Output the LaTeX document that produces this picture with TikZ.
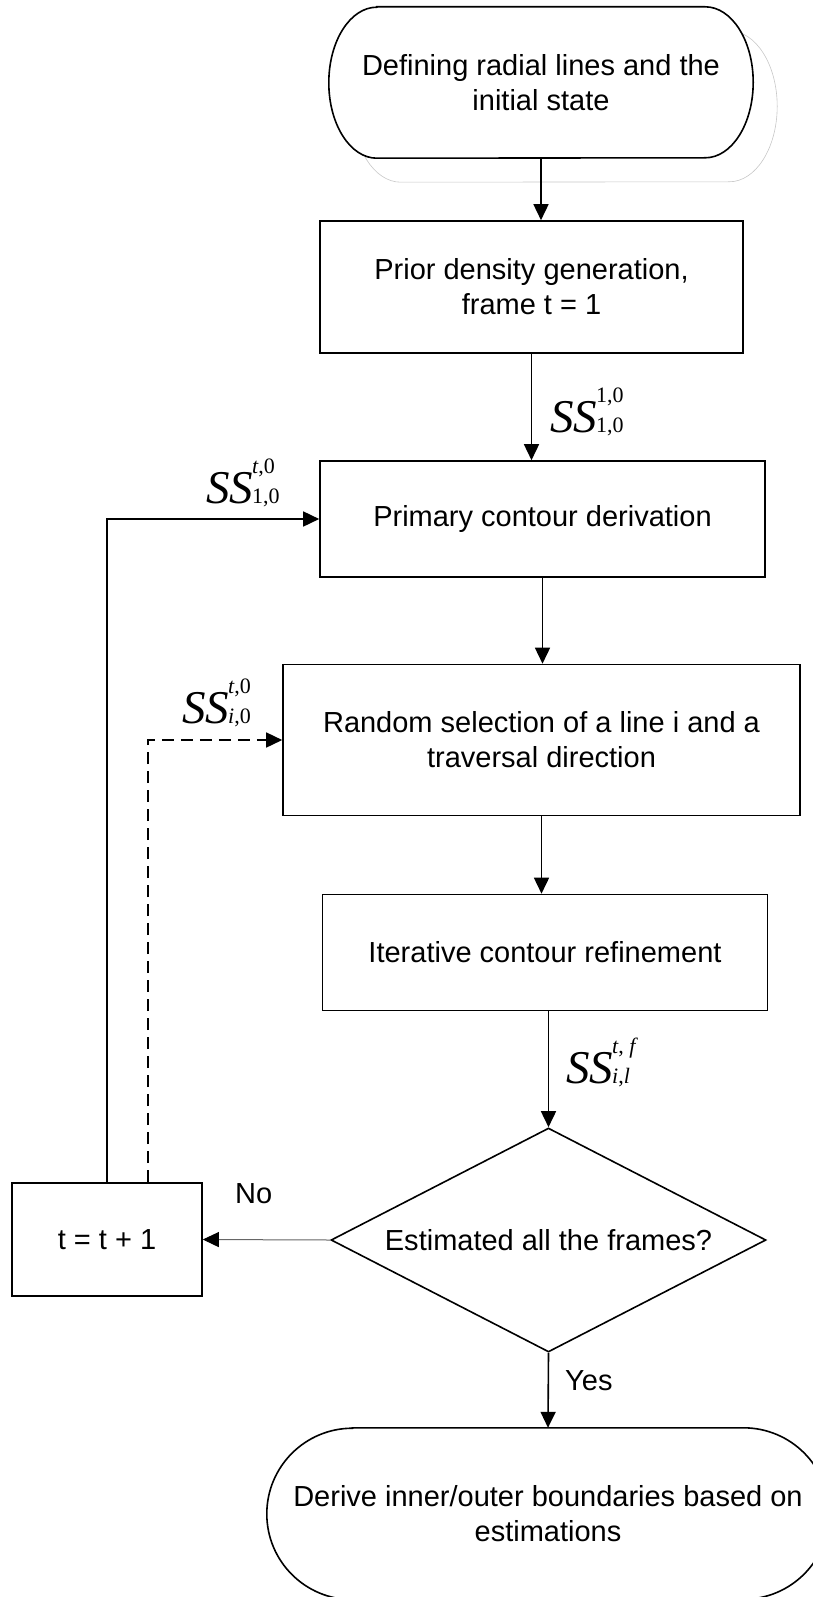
\documentclass[tikz,border=0pt]{standalone}
\usepackage{fontspec}
\setmainfont{Liberation Sans}
\newfontfamily\tnr{Liberation Serif}
\usetikzlibrary{arrows.meta,shapes.geometric,backgrounds}
\newcommand{\sslab}[2]{{\tnr\fontsize{47}{47}\selectfont\itshape SS}\kern-1pt{\tnr\fontsize{22}{22}\selectfont\begin{tabular}[b]{@{}l@{}}#1\\[8pt]#2\end{tabular}}}
\newcommand{\stadium}[3]{([xshift=#2]#1.north west) -- ([xshift=-#2]#1.north east)
  arc[start angle=90,end angle=-90,x radius=#2,y radius=#3] -- ([xshift=#2]#1.south west)
  arc[start angle=270,end angle=90,x radius=#2,y radius=#3] -- cycle}

\begin{document}
\begin{tikzpicture}[x=1pt,y=-1pt,
  every node/.style={font=\fontsize{29}{35}\selectfont,align=center},
  procbox/.style 2 args={draw,line width=1.6pt,minimum width=#1,minimum height=#2,inner sep=0pt},
  terminal/.style 2 args={minimum width=#1,minimum height=#2,inner sep=0pt},
  outline/.style={line width=1.6pt,fill=white},
  decision/.style={draw,diamond,line width=1.6pt,minimum width=435pt,minimum height=224pt,inner sep=0pt,aspect=1.94},
  lab/.style={anchor=base west,inner sep=0pt},
  flow/.style={line width=1.6pt,-{Triangle[length=16pt,width=15pt,color=black]}}]
  \useasboundingbox (0,0) rectangle (813,1597);
  \node[terminal={424pt}{151pt}] (start) at (541,82.5) {Defining radial lines and the\\initial state};
  \node[procbox={423pt}{132pt}] (prior) at (531.5,287) {Prior density generation,\\frame t = 1};
  \node[procbox={445pt}{116pt}] (primary) at (542.5,519) {Primary contour derivation};
  \node[procbox={517pt}{151pt}] (select) at (541.5,740) {Random selection of a line i and a\\traversal direction};
  \node[procbox={445pt}{116pt}] (refine) at (545,952.5) {Iterative contour refinement};
  \node[decision] (check) at (548.5,1240) {Estimated all the frames?};
  \node[procbox={190pt}{113pt}] (incr) at (107,1239.5) {t = t + 1};
  \node[terminal={562pt}{171.4pt}] (finish) at (548,1513.7) {Derive inner/outer boundaries based on\\estimations};

  \begin{scope}[on background layer]
    \draw[black!22,line width=0.6pt,transform canvas={xshift=24pt,yshift=-24pt}] \stadium{start}{48pt}{75.5pt};
    \draw[outline] \stadium{start}{48pt}{75.5pt};
    \draw[outline] \stadium{finish}{85.7pt}{85.7pt};
  \end{scope}

  \node[lab] (ssprior) at (550,432) {\sslab{1,0}{1,0}};
  \node[lab] (ssloop) at (206,503) {\sslab{{\itshape t},0}{1,0}};
  \node[lab] (ssline) at (182,723) {\sslab{{\itshape t},0}{{\itshape i},0}};
  \node[lab] (ssrefine) at (566,1083) {\sslab{{\itshape t}, {\itshape f}}{{\itshape i},{\itshape l}}};
  \node[lab] (no) at (235,1203) {No};
  \node[lab] (yes) at (565,1390) {Yes};

  \draw[flow] (start.south) -- (start.south |- prior.north);
  \draw[flow] (prior.south) -- (prior.south |- primary.north);
  \draw[flow] (primary.south) -- (primary.south |- select.north);
  \draw[flow] (select.south) -- (select.south |- refine.north);
  \draw[flow] (check.north |- refine.south) -- (check.north);
  \draw[flow] (check.south) -- (finish.north);
  \draw[flow,line width=1pt,draw=black!60] (check.west) -- (incr.east);
  \draw[flow] (incr.north) |- (primary.west);
  \draw[flow,dash pattern=on 12pt off 7pt] ([xshift=41pt]incr.north) |- (select.west);
\end{tikzpicture}
\end{document}
